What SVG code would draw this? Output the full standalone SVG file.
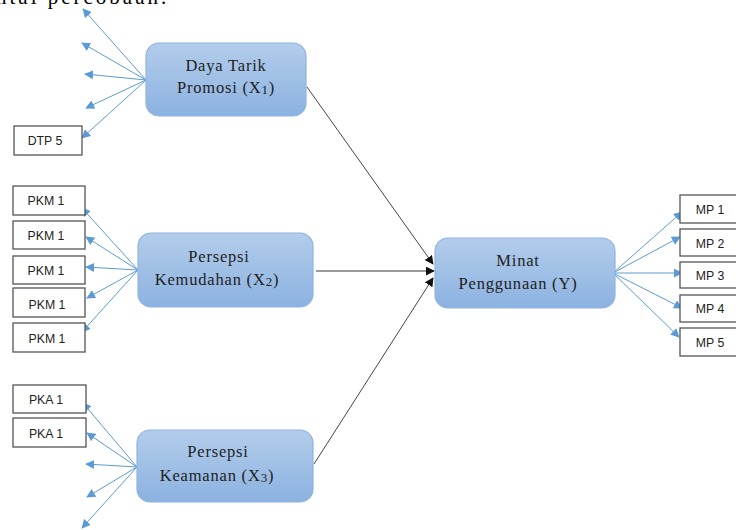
<svg xmlns="http://www.w3.org/2000/svg" width="736" height="530" viewBox="0 0 736 530">
<style>
.node rect{fill:url(#g);stroke:#8fb4e0;stroke-width:1.2}
.nt{font-family:"Liberation Serif","Times New Roman",serif;font-size:16.5px;letter-spacing:0.8px;fill:#222;text-anchor:middle}
.ind rect{fill:#fff;stroke:#555;stroke-width:1.3}
.it{font-family:"Liberation Sans",Arial,sans-serif;font-size:12.3px;fill:#222;text-anchor:middle}
.b{stroke:#5b9bd5;stroke-width:1;fill:none;marker-end:url(#ab)}
.k{stroke:#444;stroke-width:1;fill:none;marker-end:url(#ak)}
.kh{stroke:#9a9a9a;stroke-width:2.2;fill:none;marker-end:url(#ak)}
</style>
<defs>
<linearGradient id="g" x1="0" y1="0" x2="0" y2="1">
<stop offset="0" stop-color="#b3cdeb"/>
<stop offset="1" stop-color="#8cb2e1"/>
</linearGradient>
<marker id="ab" viewBox="0 0 10 10" refX="9" refY="5" markerWidth="9" markerHeight="9" markerUnits="userSpaceOnUse" orient="auto">
<path d="M0,0 L10,5 L0,10 z" fill="#5b9bd5"/>
</marker>
<marker id="ak" viewBox="0 0 10 10" refX="9" refY="5" markerWidth="9" markerHeight="9" markerUnits="userSpaceOnUse" orient="auto">
<path d="M0,0 L10,5 L0,10 z" fill="#111"/>
</marker>
</defs>
<rect width="736" height="530" fill="#fff"/>
<text x="-4" y="4" font-family="Liberation Serif,serif" font-size="21" letter-spacing="3" fill="#000">ntal percobaan.</text>

<g id="connectors">
<line class="b" x1="146" y1="80" x2="83" y2="9"/>
<line class="b" x1="146" y1="80" x2="82" y2="43"/>
<line class="b" x1="146" y1="80" x2="85" y2="74"/>
<line class="b" x1="146" y1="80" x2="86" y2="108"/>
<line class="b" x1="146" y1="80" x2="82" y2="138"/>
<line class="b" x1="138" y1="270" x2="82" y2="208"/>
<line class="b" x1="138" y1="270" x2="86" y2="237"/>
<line class="b" x1="138" y1="270" x2="86" y2="267"/>
<line class="b" x1="138" y1="270" x2="87" y2="298"/>
<line class="b" x1="138" y1="270" x2="82" y2="332"/>
<line class="b" x1="137" y1="467" x2="83" y2="403"/>
<line class="b" x1="137" y1="467" x2="87" y2="433"/>
<line class="b" x1="137" y1="467" x2="86" y2="464"/>
<line class="b" x1="137" y1="467" x2="87" y2="497"/>
<line class="b" x1="137" y1="467" x2="82" y2="528"/>
<line class="b" x1="613" y1="273" x2="682" y2="212"/>
<line class="b" x1="613" y1="273" x2="680" y2="237"/>
<line class="b" x1="613" y1="273" x2="682" y2="273"/>
<line class="b" x1="613" y1="273" x2="682" y2="308"/>
<line class="b" x1="613" y1="273" x2="679" y2="337"/>
<line class="k" x1="307" y1="87" x2="433" y2="264"/>
<line class="kh" x1="316" y1="271" x2="434" y2="271"/>
<line class="k" x1="314" y1="464" x2="433" y2="278"/>
</g>

<g id="x1" class="node"><rect x="146" y="43" width="160" height="73" rx="13"/>
<text class="nt" x="226" y="71">Daya Tarik</text>
<text class="nt" x="226" y="93">Promosi (X<tspan font-size="13" dy="1">1</tspan><tspan dy="-1">)</tspan></text></g>
<g id="x2" class="node"><rect x="138" y="233" width="175" height="74" rx="13"/>
<text class="nt" x="219" y="262">Persepsi</text>
<text class="nt" x="217" y="285">Kemudahan (X<tspan font-size="13" dy="1">2</tspan><tspan dy="-1">)</tspan></text></g>
<g id="x3" class="node"><rect x="137" y="430" width="176" height="72" rx="13"/>
<text class="nt" x="218" y="457">Persepsi</text>
<text class="nt" x="217" y="481">Keamanan (X<tspan font-size="13" dy="1">3</tspan><tspan dy="-1">)</tspan></text></g>
<g id="y" class="node"><rect x="435" y="238" width="180" height="70" rx="13"/>
<text class="nt" x="518" y="266">Minat</text>
<text class="nt" x="518" y="289">Penggunaan (Y)</text></g>

<g id="dtp5" class="ind"><rect x="14" y="126" width="68" height="29"/><text class="it" x="45" y="145">DTP 5</text></g>
<g id="pkm1a" class="ind"><rect x="13" y="186" width="72" height="29"/><text class="it" x="46" y="205">PKM 1</text></g>
<g id="pkm1b" class="ind"><rect x="13" y="221" width="72" height="28"/><text class="it" x="46" y="240">PKM 1</text></g>
<g id="pkm1c" class="ind"><rect x="13" y="256" width="72" height="28"/><text class="it" x="46" y="275">PKM 1</text></g>
<g id="pkm1d" class="ind"><rect x="13" y="288" width="72" height="29"/><text class="it" x="47" y="309">PKM 1</text></g>
<g id="pkm1e" class="ind"><rect x="13" y="323" width="72" height="29"/><text class="it" x="47" y="343">PKM 1</text></g>
<g id="pka1a" class="ind"><rect x="13" y="385" width="73" height="28"/><text class="it" x="46" y="404">PKA 1</text></g>
<g id="pka1b" class="ind"><rect x="13" y="418" width="73" height="29"/><text class="it" x="46" y="438">PKA 1</text></g>
<g id="mp1" class="ind"><rect x="680" y="195" width="62" height="28"/><text class="it" x="710" y="214">MP 1</text></g>
<g id="mp2" class="ind"><rect x="680" y="229" width="62" height="27"/><text class="it" x="710" y="248">MP 2</text></g>
<g id="mp3" class="ind"><rect x="680" y="262" width="62" height="26"/><text class="it" x="710" y="280">MP 3</text></g>
<g id="mp4" class="ind"><rect x="680" y="295" width="62" height="27"/><text class="it" x="710" y="313">MP 4</text></g>
<g id="mp5" class="ind"><rect x="680" y="328" width="62" height="28"/><text class="it" x="710" y="347">MP 5</text></g>
</svg>
